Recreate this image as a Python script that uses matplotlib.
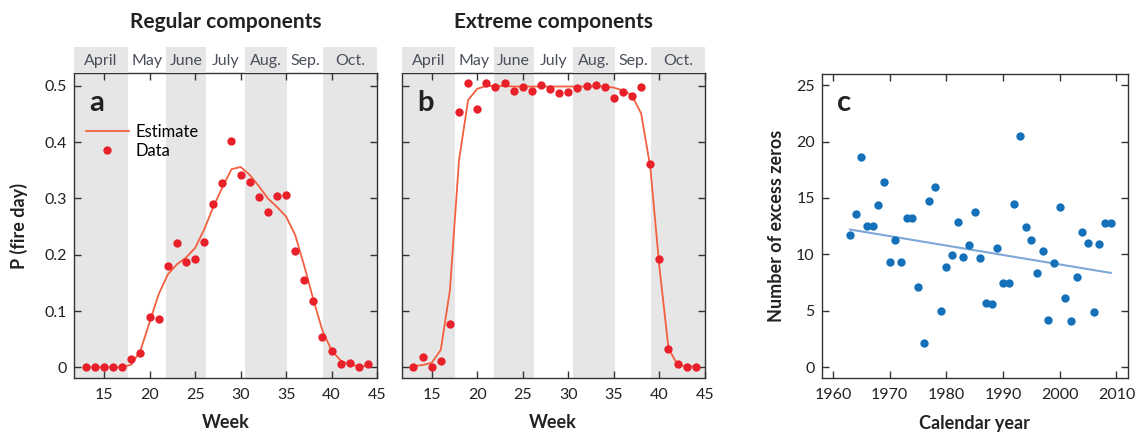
import matplotlib
matplotlib.use("Agg")
import matplotlib.pyplot as plt
import numpy as np

# ---------------- data ----------------
weeks = list(range(13, 45))
reg_data = [0, 0, 0, 0, 0, 0.015, 0.025, 0.09, 0.085, 0.18, 0.221, 0.188, 0.192,
            0.223, 0.291, 0.327, 0.402, 0.341, 0.33, 0.302, 0.276, 0.305, 0.307,
            0.206, 0.156, 0.118, 0.054, 0.029, 0.005, 0.008, 0.0, 0.006]
reg_est = [0, 0, 0, 0, 0, 0.005, 0.03, 0.08, 0.13, 0.165, 0.183, 0.195, 0.212,
           0.245, 0.285, 0.32, 0.352, 0.356, 0.342, 0.322, 0.3, 0.285, 0.268,
           0.235, 0.18, 0.12, 0.065, 0.03, 0.012, 0.005, 0.002, 0.002]
ext_data = [0, 0.018, 0, 0.011, 0.077, 0.454, 0.505, 0.459, 0.505, 0.498, 0.505,
            0.491, 0.498, 0.491, 0.502, 0.495, 0.488, 0.489, 0.497, 0.5, 0.501,
            0.498, 0.479, 0.49, 0.482, 0.499, 0.362, 0.193, 0.033, 0.005, 0, 0]
ext_est = [0.002, 0.004, 0.008, 0.031, 0.137, 0.368, 0.475, 0.495, 0.5, 0.5, 0.5,
           0.499, 0.499, 0.499, 0.499, 0.499, 0.499, 0.499, 0.499, 0.499, 0.499,
           0.499, 0.497, 0.492, 0.483, 0.451, 0.356, 0.179, 0.034, 0.004, 0.002, 0.001]

months = ["April", "May", "June", "July", "Aug.", "Sep.", "Oct."]
month_edges = [11.7, 17.6, 21.8, 26.2, 30.5, 35.1, 39.1, 45.0]
month_shaded = [True, False, True, False, True, False, True]

years = list(range(1963, 2010))
excess_zeros = [11.7, 13.6, 18.6, 12.5, 12.5, 14.4, 16.4, 9.3, 11.3, 9.3, 13.2, 13.2,
                7.1, 2.1, 14.7, 16.0, 5.0, 8.9, 9.9, 12.9, 9.8, 10.8, 13.8, 9.7,
                5.65, 5.6, 10.6, 7.5, 7.5, 14.5, 20.5, 12.4, 11.3, 8.3, 10.3, 4.2,
                9.2, 14.2, 6.1, 4.1, 8.0, 12.0, 11.0, 4.9, 10.9, 12.8, 12.8]
trend_years = [1963, 2009]
trend_vals = [12.2, 8.35]

week_ticks = [15, 20, 25, 30, 35, 40, 45]
p_ticks = [0, 0.1, 0.2, 0.3, 0.4, 0.5]
p_ticklabels = ["0", "0.1", "0.2", "0.3", "0.4", "0.5"]
year_ticks = [1960, 1970, 1980, 1990, 2000, 2010]
zero_ticks = [0, 5, 10, 15, 20, 25]

# ---------------- style ----------------
plt.rcParams['font.family'] = ['Lato', 'DejaVu Sans']

RED = "#e8202a"
EST = "#f2603f"
BLUE = "#1470b8"
TREND = "#7ea6d6"
SHADE = "#e6e6e6"
SPINE = "#333333"
TXT = "#222222"

fig = plt.figure(figsize=(11.41, 4.32), dpi=100)

def style_axes(ax):
    for s in ax.spines.values():
        s.set_color(SPINE)
        s.set_linewidth(1.0)
    ax.tick_params(direction="in", top=True, right=True, length=5, width=1,
                   color=SPINE, labelsize=11.5, labelcolor=TXT)
    ax.tick_params(axis="x", pad=7)
    ax.tick_params(axis="y", pad=5)

def week_panel(rect, est, data, letter, title, ylabels):
    ax = fig.add_axes(rect)
    for i in range(len(months)):
        if month_shaded[i]:
            ax.axvspan(month_edges[i], month_edges[i + 1], color=SHADE, lw=0, zorder=0)
    ax.plot(weeks, est, color=EST, lw=1.3, zorder=2, label="Estimate")
    ax.plot(weeks, data, "o", color=RED, ms=6, mec="none", zorder=3, label="Data")
    ax.set_xlim(11.7, 45.0)
    ax.set_ylim(-0.019, 0.523)
    ax.set_xticks(week_ticks)
    ax.set_yticks(p_ticks)
    if ylabels:
        ax.set_yticklabels(p_ticklabels)
        ax.set_ylabel("P (fire day)", fontsize=13, fontweight="bold", color=TXT, labelpad=12)
    else:
        ax.set_yticklabels([])
    ax.set_xlabel("Week", fontsize=13, fontweight="bold", color=TXT, labelpad=9)
    style_axes(ax)
    ax.text(0.05, 0.875, letter, transform=ax.transAxes, fontsize=21,
            fontweight="bold", color=TXT)
    # header band with months
    hx = fig.add_axes([rect[0], rect[1] + rect[3], rect[2], 0.060])
    hx.set_xlim(ax.get_xlim())
    hx.set_ylim(0, 1)
    for i in range(len(months)):
        if month_shaded[i]:
            hx.axvspan(month_edges[i], month_edges[i + 1], color=SHADE, lw=0)
        hx.text((month_edges[i] + month_edges[i + 1]) / 2, 0.47, months[i],
                ha="center", va="center", fontsize=11.5, color="#4b4f5c")
    hx.axis("off")
    hx.set_title(title, fontsize=15, fontweight="bold", color=TXT, pad=14)
    return ax

ax_a = week_panel([0.0649, 0.125, 0.2656, 0.706], reg_est, reg_data, "a",
                  "Regular components", True)
ax_a.legend(loc="upper left", bbox_to_anchor=(0.0, 0.87), frameon=False,
            fontsize=12, handlelength=2.6, handletextpad=0.4,
            labelspacing=0.15, borderaxespad=0.3)
ax_b = week_panel([0.352, 0.125, 0.2658, 0.706], ext_est, ext_data, "b",
                  "Extreme components", False)

# panel c
ax_c = fig.add_axes([0.7202, 0.1243, 0.2682, 0.7044])
ax_c.plot(trend_years, trend_vals, color=TREND, lw=1.5, zorder=2)
ax_c.plot(years, excess_zeros, "o", color=BLUE, ms=6, mec="none", zorder=3)
ax_c.set_xlim(1958, 2012)
ax_c.set_ylim(-1, 26)
ax_c.set_xticks(year_ticks)
ax_c.set_yticks(zero_ticks)
ax_c.set_xlabel("Calendar year", fontsize=13, fontweight="bold", color=TXT, labelpad=9)
ax_c.set_ylabel("Number of excess zeros", fontsize=13, fontweight="bold", color=TXT, labelpad=8)
style_axes(ax_c)
ax_c.text(0.05, 0.88, "c", transform=ax_c.transAxes, fontsize=21,
          fontweight="bold", color=TXT)

fig.savefig("out.png", dpi=100)
